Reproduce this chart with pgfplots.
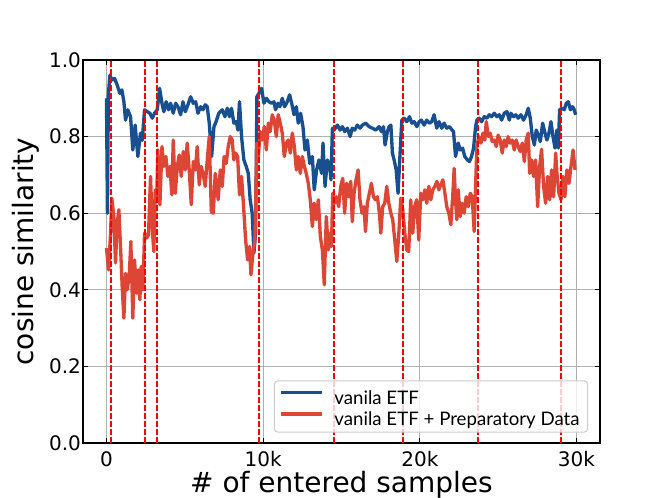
\documentclass[border=0pt]{standalone}
\usepackage{fontspec}
\setmainfont{DejaVu Sans}
\newfontfamily\legendfont{Lato}
\usepackage{pgfplots}
\usepackage{pgfplotstable}
\pgfplotsset{compat=1.18}
\definecolor{cblue}{RGB}{24,79,144}
\definecolor{cred}{RGB}{221,70,52}
\definecolor{cgrid}{RGB}{176,176,176}
\definecolor{cvred}{RGB}{255,0,0}
\definecolor{clegend}{RGB}{204,204,204}

\pgfplotstableread{
x y
0 0.90
60 0.60
120 0.91
213 0.96
362 0.948
511 0.952
680 0.935
850 0.913
980 0.922
1110 0.891
1215 0.843
1360 0.87
1535 0.852
1680 0.765
1830 0.83
2000 0.748
2170 0.809
2280 0.79
2430 0.87
2600 0.865
2770 0.861
2920 0.848
3070 0.861
3240 0.87
3390 0.926
3540 0.887
3660 0.865
3810 0.891
3960 0.87
4090 0.887
4260 0.861
4410 0.887
4560 0.878
4730 0.857
4880 0.891
5030 0.865
5200 0.883
5370 0.904
5540 0.887
5690 0.891
5840 0.861
6010 0.878
6160 0.87
6300 0.883
6430 0.878
6560 0.835
6710 0.748
6860 0.826
6960 0.835
7170 0.861
7390 0.87
7560 0.852
7710 0.874
7850 0.852
7980 0.874
8130 0.835
8280 0.839
8390 0.817
8490 0.891
8620 0.80
8770 0.739
8920 0.722
9050 0.704
9170 0.635
9300 0.60
9410 0.496
9520 0.548
9600 0.904
9730 0.913
9900 0.926
10050 0.887
10200 0.90
10370 0.891
10540 0.887
10690 0.891
10790 0.87
10940 0.887
11070 0.878
11220 0.90
11370 0.878
11540 0.891
11690 0.909
11820 0.887
11970 0.857
12120 0.878
12240 0.835
12390 0.861
12540 0.826
12670 0.765
12820 0.791
12970 0.73
13140 0.748
13260 0.661
13410 0.713
13560 0.739
13730 0.704
13820 0.783
13950 0.67
14100 0.739
14250 0.722
14330 0.687
14420 0.822
14520 0.817
14740 0.83
14910 0.817
15060 0.826
15200 0.813
15380 0.822
15550 0.80
15690 0.822
15840 0.817
16010 0.83
16180 0.822
16330 0.83
16550 0.835
16760 0.826
16970 0.822
17190 0.817
17400 0.826
17550 0.813
17680 0.826
17780 0.778
17930 0.813
18040 0.826
18150 0.83
18250 0.757
18360 0.739
18490 0.713
18610 0.652
18740 0.757
18850 0.843
19000 0.848
19170 0.839
19340 0.852
19490 0.835
19640 0.839
19810 0.826
19960 0.839
20100 0.843
20270 0.83
20440 0.843
20610 0.835
20760 0.839
20910 0.857
21080 0.822
21230 0.839
21400 0.822
21550 0.835
21720 0.822
21890 0.826
22060 0.817
22150 0.813
22280 0.748
22450 0.783
22580 0.765
22730 0.77
22870 0.748
23040 0.739
23170 0.735
23300 0.748
23430 0.77
23560 0.826
23640 0.843
23790 0.848
23940 0.839
24110 0.852
24280 0.848
24430 0.857
24580 0.852
24750 0.861
24920 0.852
25070 0.857
25220 0.843
25390 0.861
25560 0.865
25710 0.843
25810 0.861
25980 0.852
26130 0.857
26280 0.848
26450 0.857
26620 0.843
26790 0.857
26920 0.874
27050 0.848
27180 0.80
27310 0.778
27430 0.817
27560 0.804
27690 0.787
27840 0.835
27990 0.809
28110 0.791
28240 0.809
28370 0.839
28500 0.80
28630 0.77
28750 0.817
28840 0.77
28920 0.87
29070 0.874
29220 0.87
29350 0.887
29480 0.891
29610 0.87
29740 0.878
29820 0.874
29950 0.857
}\blueetf

\pgfplotstableread{
x y
0 0.509
130 0.452
260 0.548
340 0.639
470 0.591
575 0.47
680 0.574
790 0.609
895 0.513
1000 0.409
1110 0.326
1215 0.443
1320 0.40
1450 0.435
1555 0.526
1680 0.326
1790 0.478
1920 0.391
2020 0.452
2130 0.374
2215 0.461
2320 0.40
2430 0.548
2560 0.535
2680 0.543
2810 0.696
2940 0.548
3020 0.50
3110 0.661
3200 0.635
3280 0.765
3410 0.622
3540 0.774
3660 0.722
3790 0.748
3920 0.696
4050 0.722
4170 0.648
4260 0.791
4390 0.652
4520 0.722
4640 0.752
4770 0.696
4900 0.761
5030 0.713
5150 0.783
5280 0.713
5410 0.622
5540 0.735
5670 0.713
5790 0.774
5920 0.674
6050 0.722
6180 0.70
6300 0.67
6430 0.739
6560 0.80
6690 0.604
6820 0.60
6940 0.704
7130 0.635
7260 0.713
7390 0.67
7510 0.748
7640 0.73
7770 0.774
7900 0.80
8020 0.791
8130 0.739
8240 0.757
8370 0.748
8490 0.648
8620 0.696
8750 0.617
8880 0.53
9010 0.478
9130 0.513
9220 0.439
9350 0.496
9470 0.53
9600 0.783
9690 0.748
9810 0.813
9940 0.791
10070 0.826
10200 0.765
10330 0.835
10450 0.813
10580 0.857
10710 0.843
10840 0.80
10960 0.857
11090 0.835
11220 0.809
11350 0.748
11480 0.783
11600 0.791
11730 0.757
11860 0.809
11990 0.774
12120 0.713
12240 0.748
12370 0.704
12500 0.748
12630 0.722
12750 0.704
12880 0.678
13010 0.635
13140 0.565
13260 0.626
13390 0.583
13520 0.635
13650 0.539
13780 0.504
13900 0.413
14030 0.591
14160 0.504
14290 0.548
14360 0.513
14440 0.652
14570 0.626
14690 0.643
14820 0.617
14950 0.67
15080 0.691
15200 0.60
15330 0.678
15460 0.643
15590 0.683
15690 0.578
15800 0.652
15930 0.687
16060 0.713
16180 0.635
16310 0.60
16440 0.617
16530 0.552
16650 0.626
16780 0.652
16910 0.678
17040 0.643
17160 0.635
17290 0.643
17420 0.60
17510 0.548
17630 0.617
17760 0.626
17890 0.67
18020 0.626
18150 0.60
18270 0.583
18400 0.53
18530 0.474
18660 0.548
18780 0.639
18910 0.609
19040 0.548
19170 0.504
19290 0.50
19420 0.635
19550 0.548
19670 0.617
19800 0.635
19930 0.53
20060 0.652
20190 0.635
20320 0.661
20440 0.626
20570 0.67
20700 0.635
20830 0.661
20960 0.67
21090 0.683
21210 0.661
21340 0.674
21470 0.687
21600 0.652
21720 0.617
21850 0.60
21980 0.57
22110 0.652
22190 0.717
22280 0.635
22360 0.583
22450 0.661
22580 0.591
22700 0.626
22830 0.60
22960 0.643
23090 0.617
23220 0.652
23340 0.643
23470 0.552
23560 0.67
23640 0.774
23770 0.80
23900 0.783
24030 0.809
24150 0.791
24240 0.839
24370 0.80
24490 0.809
24620 0.787
24750 0.791
24880 0.774
25000 0.804
25130 0.791
25260 0.757
25390 0.791
25520 0.774
25640 0.80
25770 0.783
25900 0.791
26030 0.765
26150 0.791
26280 0.774
26410 0.761
26540 0.783
26670 0.735
26790 0.791
26920 0.809
27010 0.704
27140 0.739
27260 0.696
27390 0.739
27520 0.617
27650 0.722
27770 0.767
27900 0.67
28030 0.626
28160 0.696
28290 0.635
28410 0.713
28540 0.643
28670 0.757
28750 0.704
28880 0.652
29010 0.635
29140 0.696
29260 0.643
29390 0.713
29520 0.678
29650 0.722
29780 0.765
29910 0.713
}\redetf

\begin{document}
\begin{tikzpicture}
\useasboundingbox (-62.25pt,-41.25pt) rectangle (435.75pt,332.25pt);
\begin{axis}[
  at={(0,0)}, anchor=south west,
  scale only axis, width=387.75pt, height=287.25pt,
  xmin=-1500, xmax=31500, ymin=0, ymax=1,
  xtick={0,10000,20000,30000}, xticklabels={0,10k,20k,30k},
  ytick={0,0.2,0.4,0.6,0.8,1.0},
  /pgf/number format/assume math mode=true,
  yticklabel style={/pgf/number format/fixed, /pgf/number format/fixed zerofill, /pgf/number format/precision=1, xshift=2pt},
  xticklabel style={yshift=-3pt},
  scaled x ticks=false,
  tick label style={font=\fontsize{15}{18}\selectfont},
  label style={font=\fontsize{21}{25}\selectfont},
  xlabel={\# of entered samples},
  ylabel={cosine similarity},
  xlabel style={at={(axis description cs:0.5,-0.128)}, anchor=base},
  ylabel style={at={(axis description cs:-0.0967,0.5)}, anchor=base},
  tick align=inside, tick pos=both,
  major tick length=3.6pt,
  tick style={black, line width=0.6pt},
  axis line style={black, line width=0.8pt},
  grid=major,
  major grid style={cgrid, line width=0.8pt},
  legend cell align=left,
  legend image code/.code={\draw[#1] (0pt,2.5pt) -- (30.75pt,2.5pt);},
  legend style={
    at={(0.977,0.027)}, anchor=south east,
    font=\legendfont\fontsize{14}{16}\selectfont,
    draw=clegend, line width=0.8pt, rounded corners=2.5pt,
    fill=white, fill opacity=0.8, text opacity=1, draw opacity=1,
    inner xsep=4pt, inner ysep=2.6pt,
    row sep=-0.8pt, column sep=5.75pt,
    nodes={inner xsep=2pt, inner ysep=2pt, text height=13pt, text depth=0pt},
  },
]
\addplot[cblue, line width=2.5pt, line join=round, no markers] table[x=x,y=y] {\blueetf};
\addlegendentry{vanila ETF}
\addplot[cred, line width=2.5pt, line join=round, no markers] table[x=x,y=y] {\redetf};
\addlegendentry{vanila ETF + Preparatory Data}
\pgfplotsset{vline/.style={cvred, line width=1.4pt, dash pattern=on 4.2pt off 1.8pt, forget plot, no markers}}
\addplot[vline] coordinates {(300,0) (300,1)};
\addplot[vline] coordinates {(2430,0) (2430,1)};
\addplot[vline] coordinates {(3200,0) (3200,1)};
\addplot[vline] coordinates {(9710,0) (9710,1)};
\addplot[vline] coordinates {(14500,0) (14500,1)};
\addplot[vline] coordinates {(18900,0) (18900,1)};
\addplot[vline] coordinates {(23710,0) (23710,1)};
\addplot[vline] coordinates {(29010,0) (29010,1)};
\end{axis}
\end{tikzpicture}
\end{document}
